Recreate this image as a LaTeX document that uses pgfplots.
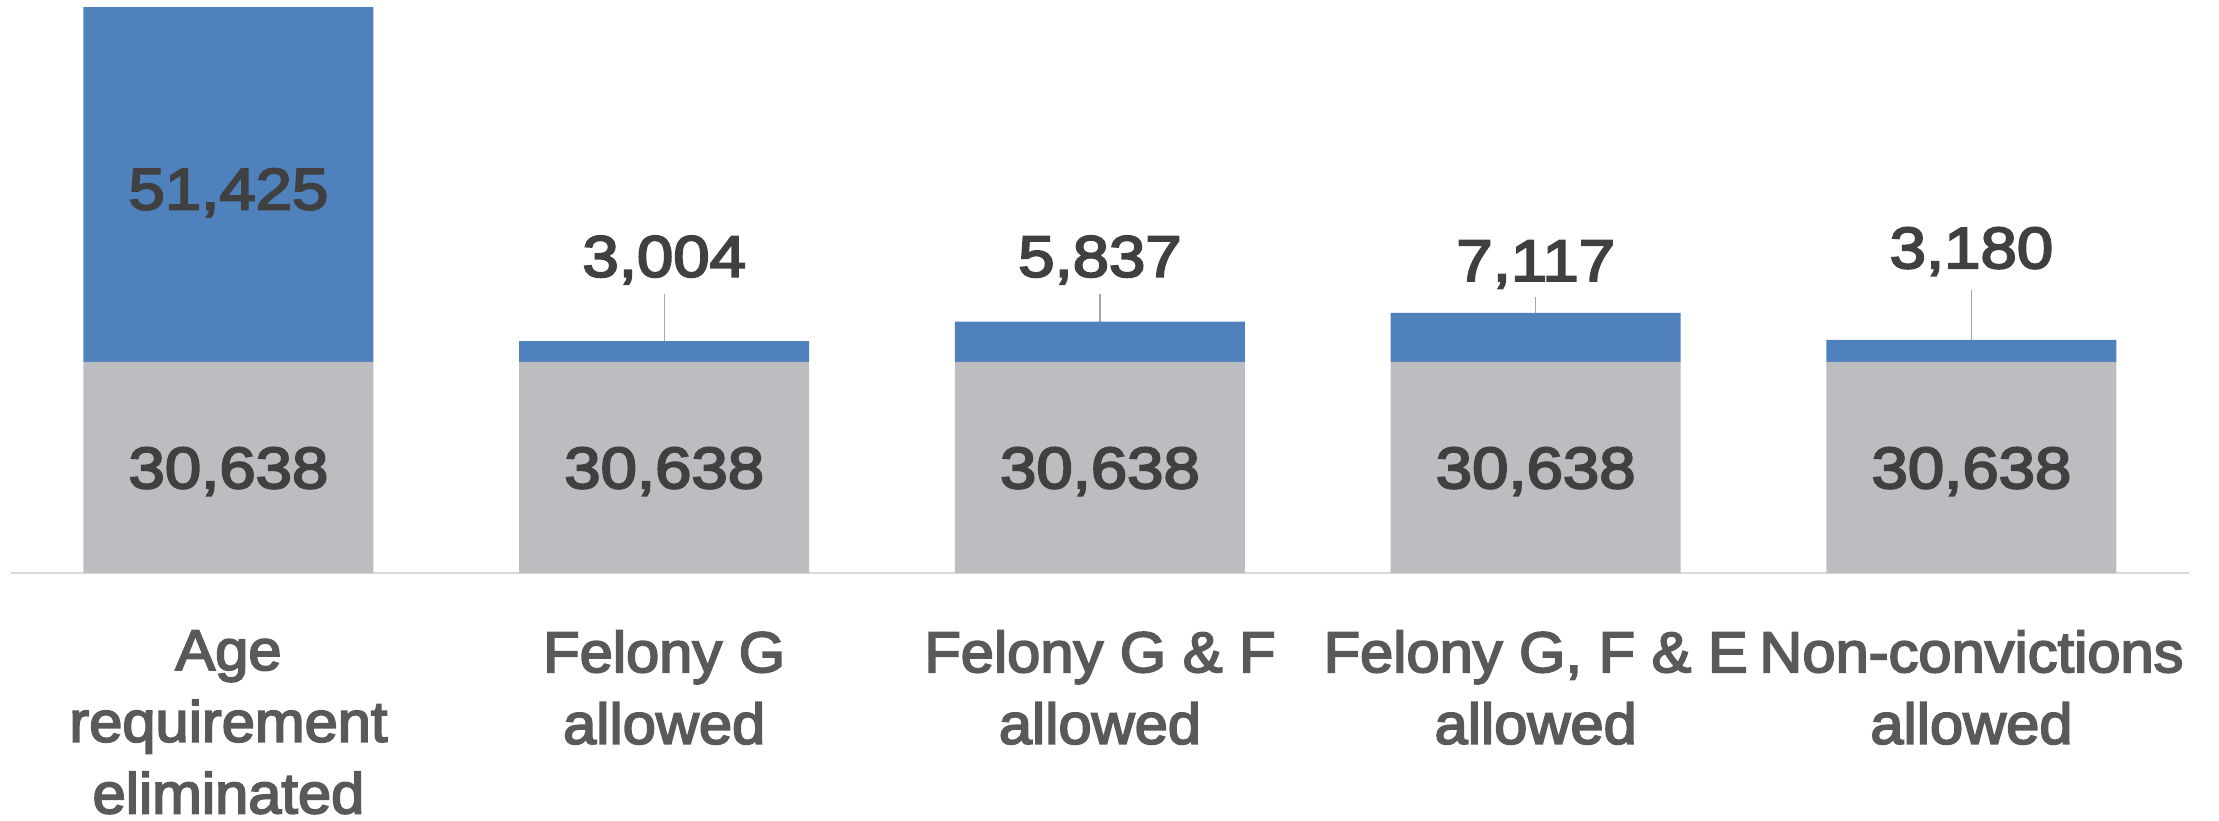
\documentclass[border=0pt]{standalone}
\usepackage{pgfplots}
\pgfplotsset{compat=1.18}
\usepackage{fontspec}
\setmainfont{Liberation Sans}
\newfontfamily\catfont[FakeStretch=1.04,FakeBold=3.2]{Liberation Sans}
\newfontfamily\valfont[FakeStretch=1.12,FakeBold=3.5]{Liberation Sans}
\definecolor{barblue}{HTML}{4F81BD}
\definecolor{bargray}{HTML}{BCBDC0}
\definecolor{valtext}{HTML}{404040}
\definecolor{cattext}{HTML}{595959}
\definecolor{axisgray}{HTML}{D9D9D9}
\definecolor{leadergray}{HTML}{A6A6A6}
\tikzset{valstyle/.style={font=\valfont\fontsize{17.5}{21}\selectfont, text=valtext, inner sep=0pt, anchor=base}}
\begin{document}
\begin{tikzpicture}
\useasboundingbox (-3.18pt,-74.04pt) rectangle (662.5pt,171.96pt);
\begin{axis}[
  at={(0,0)}, anchor=south west,
  scale only axis, width=653.6pt, height=171.96pt,
  xmin=-0.5, xmax=4.5, ymin=0, ymax=83092,
  ybar stacked, bar width=0.6656,
  axis y line=none, axis x line*=bottom,
  x axis line style={draw=axisgray, line width=0.6pt},
  xtick={0,1,2,3,4}, xtick style={draw=none},
  xticklabels={{Age\\requirement\\eliminated},{Felony G\\allowed},{Felony G \& F\\allowed},{Felony G, F \& E\\allowed},{Non-convictions\\allowed}},
  xticklabel style={align=center, font=\catfont\fontsize{17.2}{21.5}\selectfont, text=cattext, inner sep=0pt, anchor=north, yshift=-17pt},
  clip=false,
]
\addplot[fill=bargray, draw=none] coordinates {(0,30638) (1,30638) (2,30638) (3,30638) (4,30638)};
\addplot[fill=barblue, draw=none] coordinates {(0,51425) (1,3004) (2,5837) (3,7117) (4,3180)};
\coordinate (g0) at (axis cs:0,12322);
\coordinate (g1) at (axis cs:1,12322);
\coordinate (g2) at (axis cs:2,12322);
\coordinate (g3) at (axis cs:3,12322);
\coordinate (g4) at (axis cs:4,12322);
\coordinate (b0) at (axis cs:0,52737);
% outside labels and leader lines
\node[valstyle] at (axis cs:1,42981) {3,004};
\node[valstyle] at (axis cs:2,42981) {5,837};
\node[valstyle] at (axis cs:3,42372) {7,117};
\node[valstyle] at (axis cs:4,44213) {3,180};
\draw[leadergray, line width=0.4pt] (axis cs:1,33642) -- (axis cs:1,40416);
\draw[leadergray, line width=0.4pt] (axis cs:2,36475) -- (axis cs:2,40416);
\draw[leadergray, line width=0.4pt] (axis cs:3,37755) -- (axis cs:3,40009);
\draw[leadergray, line width=0.4pt] (axis cs:4,33818) -- (axis cs:4,41040);
\end{axis}
\foreach \c in {g0,g1,g2,g3,g4} {\node[valstyle] at (\c) {30,638};}
\node[valstyle] at (b0) {51,425};
\end{tikzpicture}
\end{document}
